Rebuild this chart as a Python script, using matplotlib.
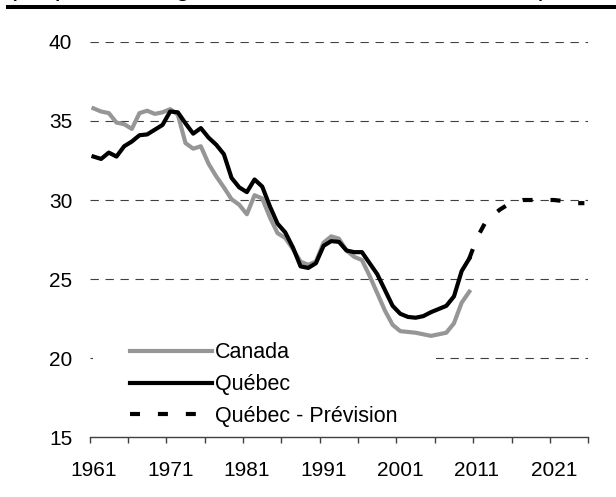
import matplotlib
matplotlib.use("Agg")
import matplotlib.pyplot as plt
from matplotlib.lines import Line2D
from matplotlib.ticker import FixedLocator

plt.rcParams['font.family'] = ['Liberation Sans', 'DejaVu Sans']

# données (en pourcentage)
annees = list(range(1961, 2011))
canada = [35.8, 35.6, 35.5, 34.9, 34.8, 34.5, 35.5, 35.65, 35.45, 35.55,
          35.75, 35.4, 33.6, 33.25, 33.4, 32.3, 31.5, 30.8, 30.05, 29.7,
          29.1, 30.3, 30.1, 28.9, 27.9, 27.6, 26.9, 26.1, 25.9, 26.1,
          27.3, 27.7, 27.55, 26.8, 26.4, 26.2, 25.2, 24.1, 23.0, 22.1,
          21.7, 21.65, 21.6, 21.5, 21.4, 21.5, 21.6, 22.2, 23.5, 24.2]
quebec = [32.75, 32.6, 33.0, 32.75, 33.4, 33.7, 34.1, 34.15, 34.45, 34.75,
          35.6, 35.55, 34.85, 34.2, 34.55, 33.95, 33.5, 32.9, 31.4, 30.8,
          30.5, 31.3, 30.85, 29.6, 28.5, 27.95, 27.0, 25.8, 25.7, 26.0,
          27.1, 27.4, 27.35, 26.8, 26.7, 26.7, 26.0, 25.3, 24.3, 23.3,
          22.8, 22.6, 22.55, 22.65, 22.9, 23.1, 23.3, 23.9, 25.5, 26.3]
annees_prev = list(range(2010, 2026))
quebec_prev = [26.3, 27.6, 28.5, 29.0, 29.4, 29.7, 29.9, 30.0, 30.0, 30.0,
               30.0, 30.0, 29.95, 29.9, 29.8, 29.8]

etiquettes_x = [1961, 1971, 1981, 1991, 2001, 2011, 2021]
ticks_y = [15, 20, 25, 30, 35, 40]

fig = plt.figure(figsize=(6.16, 4.97), dpi=100)
ax = fig.add_axes([0.1455, 0.1207, 0.8094, 0.7948])

ax.plot(annees, canada, color='#969696', lw=3, label='Canada', solid_joinstyle='round')
ax.plot(annees, quebec, color='black', lw=3, label='Québec', solid_joinstyle='round')
ax.plot(annees_prev, quebec_prev, color='black', lw=3, dashes=(2.4, 4.3),
        label='Québec - Prévision')

ax.set_xlim(1960.5, 2025.5)
ax.set_ylim(15, 40)
ax.set_yticks(ticks_y)
ax.set_xticks(etiquettes_x)
ax.set_xticklabels([str(a) for a in etiquettes_x])
ax.xaxis.set_minor_locator(FixedLocator([1960.5 + 5 * k for k in range(14)]))

ax.tick_params(axis='x', which='major', length=0, pad=17, labelsize=15)
ax.tick_params(axis='x', which='minor', length=4.5, width=1, color='#404040', direction='out')
ax.tick_params(axis='y', length=0, pad=12.5, labelsize=15)

for y in ticks_y[1:]:
    ax.axhline(y, color='#404040', lw=0.8, dashes=(7.5, 6), zorder=1)

for s in ['top', 'right', 'left']:
    ax.spines[s].set_visible(False)
ax.spines['bottom'].set_color('#404040')
ax.spines['bottom'].set_linewidth(1)
ax.xaxis.set_zorder(3)

leg = ax.legend(loc='lower left', bbox_to_anchor=(0.006, -0.07), frameon=True,
                fancybox=False, edgecolor='none', facecolor='white', framealpha=1,
                fontsize=15.5, handlelength=3.8, handletextpad=0.15,
                labelspacing=0.5, borderpad=1.75, borderaxespad=0)
leg.set_zorder(1.8)

# titre coupé en haut et filet noir
fig.text(8 / 616, 1.0105, "(en pourcentage du PIB, en dollars courants)",
         fontsize=19.5, va='baseline', ha='left')
fig.add_artist(Line2D([8 / 616, 1], [1 - 6.5 / 497] * 2, color='black', lw=2.9))

fig.savefig('out.png', dpi=100)
